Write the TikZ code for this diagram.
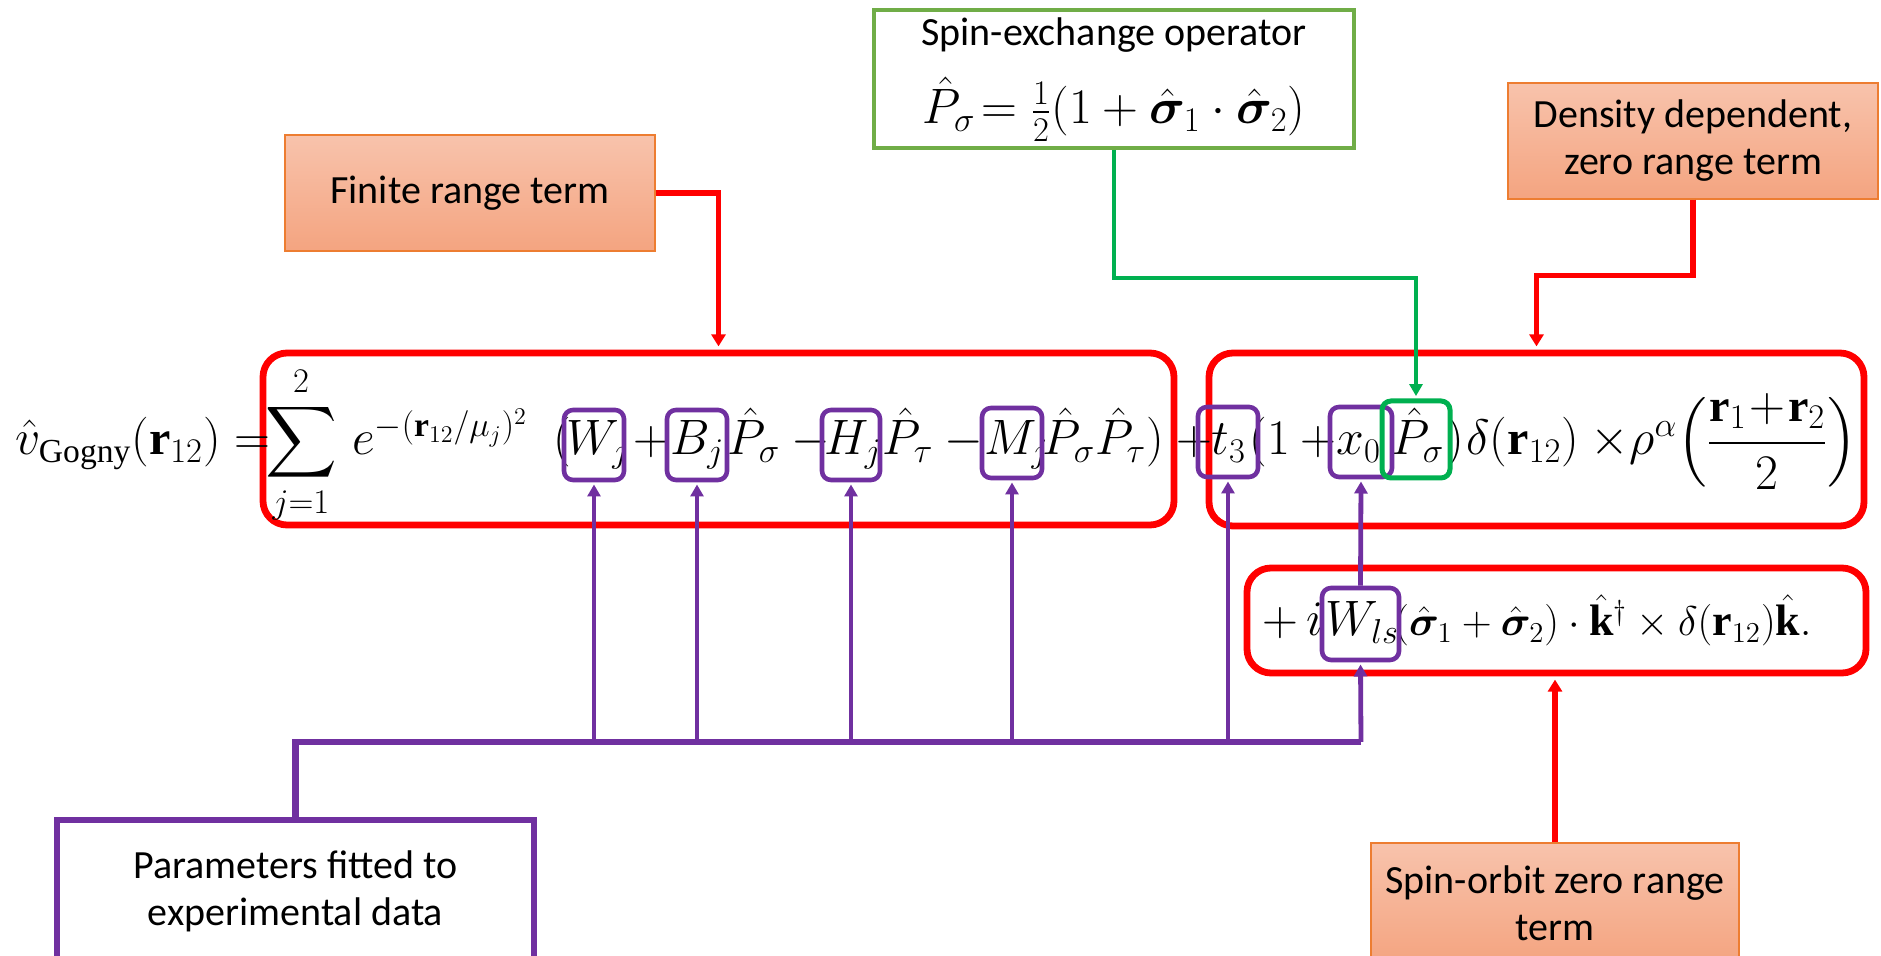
\documentclass[tikz,border=0pt]{standalone}
\usepackage{amsmath}
\usepackage{bm}
\usepackage{fontspec}
\setmainfont{Liberation Serif}
\newfontfamily\labelfont{Carlito}
\usetikzlibrary{arrows.meta,fit}

\definecolor{redline}{HTML}{FF0000}
\definecolor{purp}{HTML}{7030A0}
\definecolor{grn}{HTML}{00B050}
\definecolor{grnbox}{HTML}{70AD47}
\definecolor{orTop}{HTML}{F8C3AC}
\definecolor{orBot}{HTML}{F4A480}
\definecolor{orEdge}{HTML}{ED7D31}

\tikzset{
  redbox/.style={draw=redline, line width=3.4pt, rounded corners=12pt, inner sep=0pt},
  parbox/.style={draw=purp, line width=2.3pt, rounded corners=4.5pt, inner sep=0pt},
  grnsel/.style={draw=grn, line width=2.5pt, rounded corners=4.5pt, inner sep=0pt},
  termbox/.style={draw=orEdge, line width=0.6pt, top color=orTop, bottom color=orBot, inner sep=0pt},
  notebox/.style={draw=purp, line width=3pt, inner sep=0pt},
  lbl/.style={inner sep=0pt, align=center, font=\labelfont\fontsize{20}{23.5}\selectfont},
  redarrow/.style={draw=redline, line width=2.6pt, shorten >=1.6pt,
    -{Triangle[length=6pt,width=7pt]}},
  purparrow/.style={draw=purp, line width=2.4pt, shorten >=1.1pt,
    -{Triangle[length=6pt,width=6.5pt]}},
  grnarrow/.style={draw=grn, line width=2.2pt, shorten >=1.2pt,
    -{Triangle[length=6pt,width=6.5pt]}},
  bus/.style={draw=purp, line width=3.3pt},
  eq/.style={inner sep=0pt, anchor=base west, font=\fontsize{24}{28}\selectfont},
}

\begin{document}
\begin{tikzpicture}[x=0.5pt,y=-0.5pt]
\useasboundingbox (0,0) rectangle (1881,956);
\clip (0,0) rectangle (1881,956);
\fill[white] (0,0) rectangle (1881,956);

% frames round the three terms of the interaction
\node[redbox, fit={(263,353)(1174,525)}] (rb1) {};
\node[redbox, fit={(1209,353)(1864,526)}] (rb2) {};
\node[redbox, fit={(1247,568)(1866,673)}] (rb3) {};

% explanatory labels
\node[termbox, fit={(285,135)(655,251)}] (fin) {};
\node[lbl] (fintext) at (fin.center) {Finite range term};
\node[termbox, fit={(1508,83)(1878,199)}] (dens) {};
\node[lbl] (denstext) at (dens.center) {Density dependent,\\ zero range term};
\node[termbox, fit={(1371,843)(1739,963)}] (so) {};
\node[lbl] (sotext) at (so.center) {Spin-orbit zero range\\ term};
\node[notebox, fit={(57,820)(534,962)}] (par) {};
\node[lbl] (partext) at (par.center) {Parameters fitted to\\ experimental data};

% spin-exchange operator definition
\node[draw=grnbox, line width=2pt, inner sep=0pt, fit={(874,10)(1354,148)}] (spx) {};
\node[inner sep=0pt, anchor=base, font=\labelfont\fontsize{20}{22}\selectfont] (spxtitle) at (1114,46) {Spin-exchange operator};
\node[inner sep=0pt, anchor=base, font=\fontsize{26}{30}\selectfont] (spxeq) at (1114,124)
  {$\hat P_\sigma\!= \tfrac12(1+\bm{\hat\sigma}_1\cdot\bm{\hat\sigma}_2)$};

% the Gogny interaction, first line
\node[eq] (e1) at (15,455) {$\hat{v}_{\mathrm{Gogny}}(\mathbf{r}_{12})=$};
\node[eq, anchor=base] (e2) at (301,455) {$\displaystyle\sum_{j=1}^{2}$};
\node[eq] (e3) at (352,455) {$e^{-(\mathbf{r}_{12}/\mu_j)^2}$};
\node[eq] (e3b) at (553,455) {$($};
\node[eq] (e4) at (566,455) {$W_j$};
\node[eq] (e5) at (633,455) {$+$};
\node[eq] (e6) at (670,455) {$B_j$};
\node[eq] (e7) at (727,455) {$\hat P_\sigma - {}$};
\node[eq] (e8) at (824,455) {$H_j$};
\node[eq] (e9) at (882,455) {$\hat P_\tau - {}$};
\node[eq] (e10) at (984,455) {$M_j$};
\node[eq] (e11) at (1042,455) {$\hat P_\sigma\hat P_\tau)$};
\node[eq] (e12) at (1176,455) {$+$};
\node[eq] (e13) at (1211,455) {$t_3$};
\node[eq] (e14) at (1249,455) {$(1+{}$};
\node[eq] (e15) at (1336,455) {$x_0$};
\node[eq] (e16) at (1391,455) {$\hat P_\sigma$};
\node[eq] (e17) at (1446,455) {$)$};
\node[eq] (e18) at (1466,455) {$\delta(\mathbf{r}_{12})\times{}$};
\node[eq, font=\fontsize{23}{27}\selectfont] (e19) at (1629,455)
  {$\rho^{\alpha}\!\left(\dfrac{\mathbf{r}_1\!+\!\mathbf{r}_2}{2}\right)$};

% second line: spin-orbit term
\node[eq] (e20) at (1262,636) {${+}\,i$};
\node[eq] (e21) at (1325,636) {$W_{ls}$};
\node[eq, font=\fontsize{22}{26}\selectfont] (e22) at (1394,636)
  {$(\bm{\hat\sigma}_1+\bm{\hat\sigma}_2)\cdot\hat{\mathbf{k}}^{\dagger}\times\delta(\mathbf{r}_{12})\hat{\mathbf{k}}.$};

% fitted parameters and the spin-exchange factor
\node[parbox, fit={(564,410)(624,480)}] (bW) {};
\node[parbox, fit={(667,410)(727,480)}] (bB) {};
\node[parbox, fit={(822,410)(880,480)}] (bH) {};
\node[parbox, fit={(982,408)(1042,478)}] (bM) {};
\node[parbox, fit={(1198,407)(1258,477)}] (bT) {};
\node[parbox, fit={(1330,407)(1392,477)}] (bX) {};
\node[parbox, fit={(1322,588)(1399,660)}] (bWls) {};
\node[grnsel, fit={(1382,401)(1450,478)}] (gP) {};

% connectors from the labels
\draw[redarrow] (fin.east) -| (rb1.north);
\draw[redarrow] (dens.south) -- ++(0,76) -| (rb2.north);
\draw[redarrow] (so.north) -- (so.north |- rb3.south);
\draw[grnarrow] (spx.south) -- ++(0,128) -| (gP.north);

% parameter bus
\coordinate (busR) at (1361,742);
\draw[bus] (par.north) |- (busR);
\draw[purparrow] (busR) -- (bWls.south);
\foreach \b in {bW,bB,bH,bM,bT}
  \draw[purparrow] (\b.south |- busR) -- (\b.south);
\draw[purparrow] (bWls.north) -- (bX.south);
\end{tikzpicture}
\end{document}
